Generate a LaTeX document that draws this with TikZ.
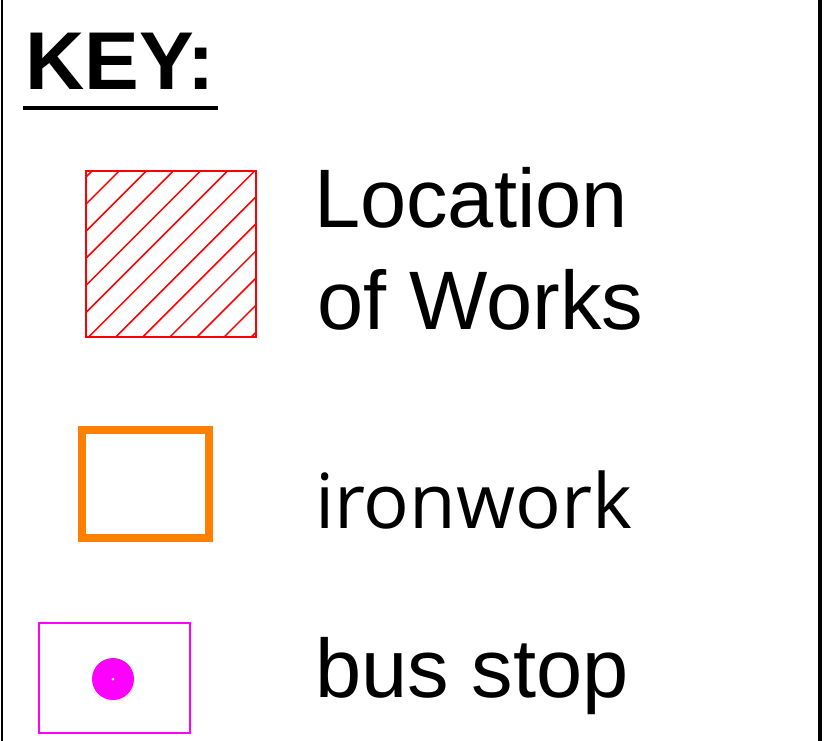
\documentclass[tikz,border=0pt]{standalone}
\usepackage{fontspec}
\setmainfont{Liberation Sans}
\newfontfamily\osans{Open Sans}
\definecolor{keyorange}{HTML}{FF8000}
\definecolor{keymagenta}{HTML}{FF00FF}
\definecolor{keyred}{HTML}{FF0000}
\begin{document}
\begin{tikzpicture}[x=1pt,y=-1pt,
  lbl/.style={anchor=base west,inner sep=0pt,font=\fontsize{83}{90}\selectfont},
  hatchline/.style={keyred,line width=1.5pt},
  frame/.style={line width=2pt}]
\useasboundingbox (0,0) rectangle (828,741);
\fill[white] (0,0) rectangle (828,741);
% frame lines
\draw[frame] (2,0) -- (2,741);
\draw[line width=4pt] (820,0) -- (820,741);
% title
\node[anchor=base west,inner sep=0pt,font=\fontsize{82}{90}\selectfont\bfseries] (key) at (25,90) {KEY:};
\draw[line width=4pt] (23,108) -- (218,108);
% hatched box
\begin{scope}
  \clip (86,171) rectangle (256,337);
  \foreach \k in {0,...,12} {
    \pgfmathsetmacro{\c}{263+27.1*\k}
    \draw[hatchline] (\c-100,100) -- (\c-400,400);
  }
\end{scope}
\draw[keyred,line width=1.5pt] (86,171) rectangle (256,337);
\node[lbl] (loc1) at (314,227) {Location};
\node[lbl] (loc2) at (317,329) {of Works};
% ironwork
\draw[keyorange,line width=8pt] (81.5,429.5) rectangle (209,537.5);
\node[lbl,font=\fontsize{76}{90}\osans] (iron) at (315,528) {ironwork};
% bus stop
\draw[keymagenta,line width=1.5pt] (39,623) rectangle (190,733);
\fill[keymagenta] (113,679) circle (21);
\fill[white] (113,679) circle (1.5);
\node[lbl] (bus) at (315,697) {bus stop};
\end{tikzpicture}
\end{document}
